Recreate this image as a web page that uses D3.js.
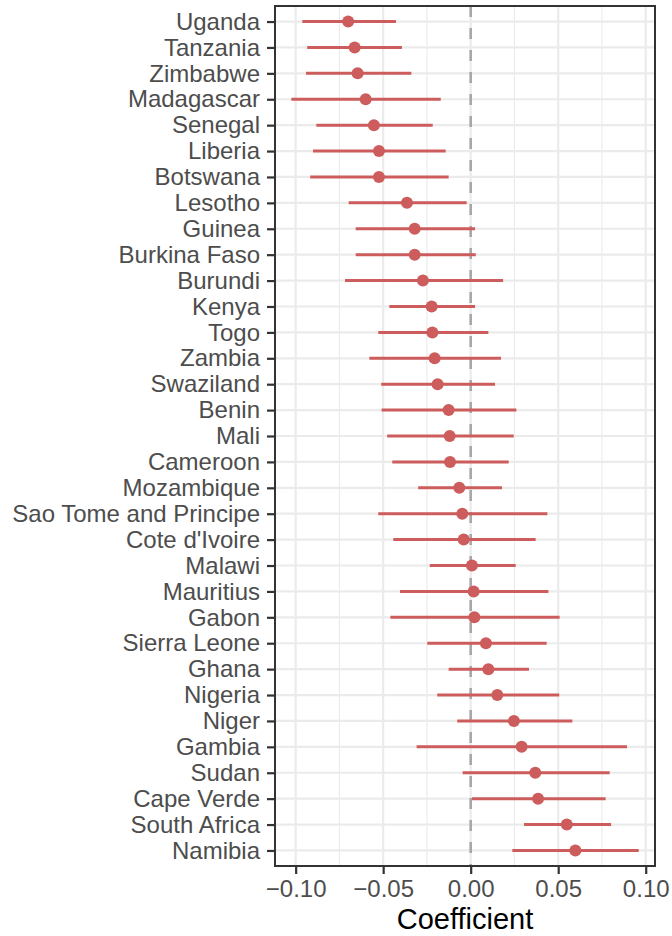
<!DOCTYPE html>
<html>
<head>
<meta charset="utf-8">
<script src="https://cdn.jsdelivr.net/npm/d3@7"></script>
<style>
  html, body { margin: 0; padding: 0; background: #fff; }
  svg { display: block; font-family: "Liberation Sans", Arial, Helvetica, sans-serif; }
</style>
</head>
<body>
<svg id="chart" width="672" height="936"></svg>
<script>
const countries = ["Uganda","Tanzania","Zimbabwe","Madagascar","Senegal","Liberia","Botswana","Lesotho","Guinea","Burkina Faso","Burundi","Kenya","Togo","Zambia","Swaziland","Benin","Mali","Cameroon","Mozambique","Sao Tome and Principe","Cote d'Ivoire","Malawi","Mauritius","Gabon","Sierra Leone","Ghana","Nigeria","Niger","Gambia","Sudan","Cape Verde","South Africa","Namibia"];
const estimates = [-0.0700,-0.0663,-0.0646,-0.0600,-0.0553,-0.0524,-0.0524,-0.0364,-0.0320,-0.0320,-0.0273,-0.0223,-0.0219,-0.0206,-0.0189,-0.0126,-0.0120,-0.0118,-0.0065,-0.0048,-0.0040,0.0007,0.0017,0.0021,0.0087,0.0101,0.0152,0.0247,0.0291,0.0369,0.0385,0.0549,0.0598];
const lower = [-0.0962,-0.0934,-0.0941,-0.1025,-0.0882,-0.0901,-0.0917,-0.0697,-0.0657,-0.0657,-0.0718,-0.0465,-0.0528,-0.0579,-0.0511,-0.0509,-0.0477,-0.0448,-0.0300,-0.0528,-0.0442,-0.0234,-0.0404,-0.0459,-0.0248,-0.0126,-0.0191,-0.0077,-0.0309,-0.0046,0.0007,0.0305,0.0238];
const upper = [-0.0427,-0.0393,-0.0339,-0.0171,-0.0217,-0.0143,-0.0126,-0.0023,0.0025,0.0029,0.0185,0.0025,0.0101,0.0173,0.0139,0.0261,0.0246,0.0217,0.0179,0.0438,0.0371,0.0257,0.0444,0.0508,0.0434,0.0333,0.0506,0.0581,0.0893,0.0794,0.0771,0.0802,0.0960];
const xTicks = [-0.10,-0.05,0.00,0.05,0.10];
const xMinor = [-0.075,-0.025,0.025,0.075];
const xTitle = "Coefficient";

const data = countries.map((c,i)=>({country:c, est:estimates[i], lo:lower[i], hi:upper[i]}));

const svg = d3.select("#chart");
const L = 275, R = 655, T = 6, B = 866;

const x = d3.scaleLinear().domain([-0.1118, 0.1053]).range([L, R]);
const y = d3.scalePoint().domain(countries).range([T, B]).padding(0.6);

const grid = svg.append("g");
grid.selectAll("line.minor").data(xMinor).join("line")
  .attr("x1", d=>x(d)).attr("x2", d=>x(d)).attr("y1", T).attr("y2", B)
  .attr("stroke", "#ebebeb").attr("stroke-width", 1.1);
grid.selectAll("line.majorx").data(xTicks).join("line")
  .attr("x1", d=>x(d)).attr("x2", d=>x(d)).attr("y1", T).attr("y2", B)
  .attr("stroke", "#ebebeb").attr("stroke-width", 2.2);
grid.selectAll("line.majory").data(countries).join("line")
  .attr("x1", L).attr("x2", R).attr("y1", d=>y(d)).attr("y2", d=>y(d))
  .attr("stroke", "#ebebeb").attr("stroke-width", 2.2);

svg.append("line")
  .attr("x1", x(0)).attr("x2", x(0)).attr("y1", T).attr("y2", B)
  .attr("stroke", "#a8a8a8").attr("stroke-width", 2.6)
  .attr("stroke-dasharray", "11,11");

const col = "#cd5c5c";
svg.append("g").selectAll("line").data(data).join("line")
  .attr("x1", d=>x(d.lo)).attr("x2", d=>x(d.hi))
  .attr("y1", d=>y(d.country)).attr("y2", d=>y(d.country))
  .attr("stroke", col).attr("stroke-width", 3);
svg.append("g").selectAll("circle").data(data).join("circle")
  .attr("cx", d=>x(d.est)).attr("cy", d=>y(d.country)).attr("r", 6)
  .attr("fill", col);

svg.append("rect").attr("x", L).attr("y", T).attr("width", R-L).attr("height", B-T)
  .attr("fill", "none").attr("stroke", "#333333").attr("stroke-width", 2);

const yAxis = svg.append("g").attr("transform", `translate(${L},0)`)
  .call(d3.axisLeft(y).tickSize(8).tickPadding(7));
yAxis.select(".domain").remove();
yAxis.selectAll(".tick line").attr("stroke", "#333333").attr("stroke-width", 2.2);
yAxis.selectAll(".tick text").attr("fill", "#4d4d4d").style("font-size", "24px")
  .style("font-family", "'Liberation Sans', Arial, sans-serif");

const xAxis = svg.append("g").attr("transform", `translate(0,${B})`)
  .call(d3.axisBottom(x).tickValues(xTicks).tickFormat(d3.format(".2f")).tickSize(8).tickPadding(6));
xAxis.select(".domain").remove();
xAxis.selectAll(".tick line").attr("stroke", "#333333").attr("stroke-width", 2.2);
xAxis.selectAll(".tick text").attr("fill", "#4d4d4d").style("font-size", "24px")
  .style("font-family", "'Liberation Sans', Arial, sans-serif");

svg.append("text").attr("x", (L+R)/2).attr("y", 929).attr("text-anchor", "middle")
  .attr("fill", "#000").style("font-size", "29px").text(xTitle);
</script>
</body>
</html>
